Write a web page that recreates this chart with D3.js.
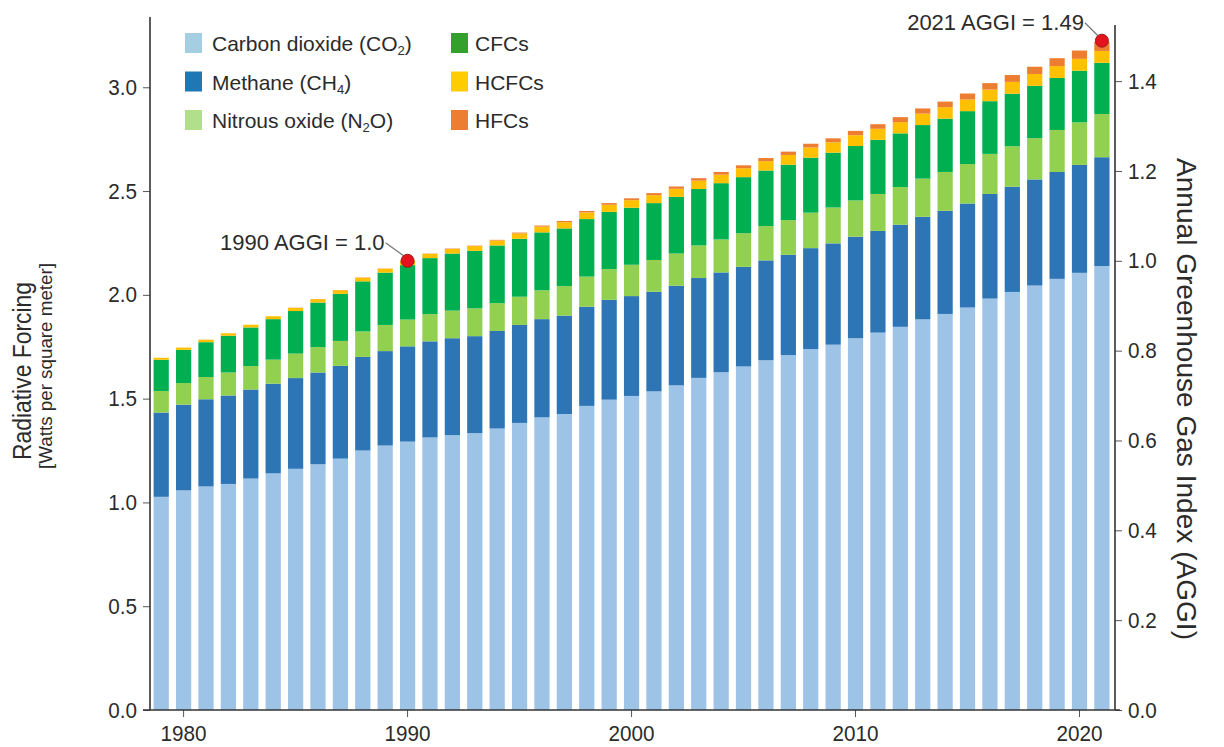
<!DOCTYPE html>
<html>
<head>
<meta charset="utf-8">
<script src="https://cdn.jsdelivr.net/npm/d3@7"></script>
<style>
  body { margin: 0; background: #fff; }
  svg text { font-family: "Liberation Sans", Arial, sans-serif; fill: #2b2b2b; }
</style>
</head>
<body>
<div id="chart"></div>
<script>
// radiative forcing by gas, W/m2, 1979-2021
const years = d3.range(1979, 2022);
const co2 = [1.027,1.058,1.077,1.089,1.115,1.140,1.162,1.184,1.211,1.250,1.274,
  1.293,1.313,1.324,1.334,1.356,1.383,1.410,1.426,1.465,1.495,
  1.513,1.535,1.564,1.600,1.627,1.655,1.685,1.710,1.739,1.760,
  1.791,1.818,1.846,1.882,1.908,1.939,1.982,2.014,2.045,2.077,
  2.106,2.139];
const ch4 = [0.406,0.413,0.420,0.426,0.429,0.432,0.437,0.442,0.447,0.451,0.455,
  0.459,0.463,0.467,0.467,0.470,0.472,0.473,0.474,0.478,0.481,
  0.481,0.480,0.480,0.481,0.481,0.480,0.481,0.483,0.486,0.488,
  0.489,0.490,0.492,0.494,0.497,0.501,0.504,0.507,0.511,0.515,
  0.520,0.524];
const n2o = [0.104,0.104,0.107,0.111,0.113,0.116,0.118,0.122,0.120,0.123,0.126,
  0.129,0.131,0.133,0.134,0.134,0.136,0.139,0.142,0.145,0.148,
  0.151,0.153,0.155,0.157,0.159,0.162,0.165,0.167,0.171,0.173,
  0.175,0.178,0.181,0.184,0.187,0.190,0.193,0.195,0.199,0.202,
  0.205,0.208];
const cfcs = [0.150,0.160,0.168,0.177,0.186,0.195,0.205,0.215,0.227,0.241,0.252,
  0.262,0.270,0.275,0.277,0.278,0.279,0.279,0.278,0.277,0.276,
  0.275,0.274,0.273,0.272,0.271,0.270,0.268,0.267,0.265,0.264,
  0.262,0.261,0.259,0.258,0.257,0.255,0.254,0.253,0.252,0.251,
  0.249,0.247];
const hcfcs = [0.010,0.011,0.012,0.012,0.013,0.014,0.015,0.016,0.017,0.018,0.019,
  0.020,0.021,0.022,0.023,0.024,0.026,0.028,0.030,0.032,0.034,
  0.036,0.038,0.039,0.040,0.041,0.043,0.045,0.047,0.049,0.050,
  0.052,0.053,0.054,0.055,0.055,0.056,0.056,0.057,0.057,0.057,
  0.057,0.057];
const hfcs = [0.000,0.000,0.000,0.000,0.000,0.000,0.001,0.001,0.001,0.001,0.001,
  0.001,0.001,0.002,0.002,0.003,0.004,0.005,0.006,0.007,0.008,
  0.009,0.010,0.011,0.012,0.013,0.014,0.015,0.016,0.018,0.019,
  0.021,0.022,0.024,0.025,0.027,0.029,0.031,0.033,0.035,0.038,
  0.040,0.043];

const keys = ["co2", "ch4", "n2o", "cfcs", "hcfcs", "hfcs"];
const barColors = ["#9dc3e6", "#2e75b6", "#92d050", "#00b050", "#ffc000", "#ed7d31"];
const legendColors = ["#a6cee3", "#1f78b4", "#b2df8a", "#33a02c", "#ffcc00", "#ed7d31"];
// legend label parts: [text, subscript, text after]
const legendLabels = [
  ["Carbon dioxide (CO", "2", ")"],
  ["Methane (CH", "4", ")"],
  ["Nitrous oxide (N", "2", "O)"],
  ["CFCs", "", ""],
  ["HCFCs", "", ""],
  ["HFCs", "", ""]
];
const leftTicks = [0, 0.5, 1.0, 1.5, 2.0, 2.5, 3.0];
const rightTicks = [0, 0.2, 0.4, 0.6, 0.8, 1.0, 1.2, 1.4];
const yearTicks = [1980, 1990, 2000, 2010, 2020];
const annotYears = [1990, 2021];
const annotAggi = [1.0, 1.49];
const annotText = ["1990 AGGI = 1.0", "2021 AGGI = 1.49"];

const width = 1224, height = 747;

let rows = years.map(function(y, i) {
  return { year: y, co2: co2[i], ch4: ch4[i], n2o: n2o[i], cfcs: cfcs[i], hcfcs: hcfcs[i], hfcs: hfcs[i] };
});
let rf1990 = 0;
keys.forEach(k => rf1990 += rows[years.indexOf(1990)][k]);

let svg = d3.select("#chart").append("svg")
  .attr("width", width)
  .attr("height", height);

const xLeft = 150, xRight = 1115, yBottom = 710, yTop = 25;

let x = d3.scaleBand()
  .domain(years)
  .range([150, 1113.1])
  .paddingInner(0.32)
  .paddingOuter(0.16);

let y = d3.scaleLinear().domain([0, 3.3]).range([yBottom, yTop]);
let yR = d3.scaleLinear().domain([0, 3.3 / rf1990]).range([yBottom, yTop]);

//stacked bars
let stack = d3.stack().keys(keys)(rows);
svg.append("g").selectAll("g")
  .data(stack)
  .join("g")
  .attr("fill", (d, i) => barColors[i])
  .selectAll("rect")
  .data(d => d)
  .join("rect")
  .attr("x", d => x(d.data.year))
  .attr("width", x.bandwidth())
  .attr("y", d => y(d[1]))
  .attr("height", d => y(d[0]) - y(d[1]));

//axes
let axisColor = "#333";
let gl = svg.append("g")
  .attr("transform", `translate(${xLeft},0)`)
  .call(d3.axisLeft(y).tickValues(leftTicks).tickFormat(d3.format(".1f")).tickSize(7).tickPadding(6));
let gr = svg.append("g")
  .attr("transform", `translate(${xRight},0)`)
  .call(d3.axisRight(yR).tickValues(rightTicks).tickFormat(d3.format(".1f")).tickSize(7).tickPadding(6));
let gb = svg.append("g")
  .attr("transform", `translate(0,${yBottom})`)
  .call(d3.axisBottom(x).tickValues(yearTicks).tickSize(7).tickPadding(8));

[gl, gr, gb].forEach(function(g) {
  g.select(".domain").remove();
  g.selectAll("line").attr("stroke", "#555").attr("stroke-width", 1);
  g.selectAll("text").attr("font-size", 22).attr("fill", "#2b2b2b");
});
//slightly condensed tick labels, like the original
svg.selectAll(".tick text").each(function() {
  let len = this.getComputedTextLength();
  d3.select(this).attr("textLength", len * 0.94).attr("lengthAdjust", "spacingAndGlyphs");
});

svg.append("line").attr("x1", xLeft).attr("x2", xLeft).attr("y1", yTop - 8).attr("y2", yBottom)
  .attr("stroke", axisColor).attr("stroke-width", 1.6);
svg.append("line").attr("x1", xRight).attr("x2", xRight).attr("y1", yTop).attr("y2", yBottom)
  .attr("stroke", axisColor).attr("stroke-width", 1.6);
svg.append("line").attr("x1", xLeft - 7).attr("x2", xRight + 5).attr("y1", yBottom).attr("y2", yBottom)
  .attr("stroke", axisColor).attr("stroke-width", 1.6);

//axis titles
svg.append("text")
  .attr("transform", "translate(31,371) rotate(-90)")
  .attr("text-anchor", "middle")
  .attr("font-size", 26)
  .attr("textLength", 178)
  .attr("lengthAdjust", "spacingAndGlyphs")
  .text("Radiative Forcing");
svg.append("text")
  .attr("transform", "translate(52,366) rotate(-90)")
  .attr("text-anchor", "middle")
  .attr("font-size", 19)
  .attr("textLength", 206)
  .attr("lengthAdjust", "spacingAndGlyphs")
  .text("[Watts per square meter]");
svg.append("text")
  .attr("transform", "translate(1177,399) rotate(90)")
  .attr("text-anchor", "middle")
  .attr("font-size", 27)
  .attr("textLength", 482)
  .attr("lengthAdjust", "spacingAndGlyphs")
  .text("Annual Greenhouse Gas Index (AGGI)");

//legend
let legend = svg.append("g").selectAll("g")
  .data(legendLabels)
  .join("g")
  .attr("transform", (d, i) => `translate(${i < 3 ? 185 : 451},${33 + (i % 3) * 38.5})`);
legend.append("rect")
  .attr("width", 17).attr("height", 20)
  .attr("fill", (d, i) => legendColors[i]);
let lt = legend.append("text")
  .attr("x", (d, i) => i < 3 ? 27 : 24)
  .attr("y", 18)
  .attr("font-size", 21);
lt.append("tspan").text(d => d[0]);
lt.append("tspan").attr("font-size", 13).attr("dy", 4).text(d => d[1]);
lt.append("tspan").attr("dy", -4).text(d => d[2]);

//AGGI annotations
const annotDx = [-23, -18];
let ann = svg.append("g").selectAll("g")
  .data(annotYears)
  .join("g")
  .attr("transform", (d, i) => `translate(${x(d) + x.bandwidth() / 2},${yR(annotAggi[i])})`);
ann.append("line")
  .attr("x1", (d, i) => annotDx[i] + 1).attr("y1", -18)
  .attr("x2", -4).attr("y2", -5)
  .attr("stroke", "#777")
  .attr("stroke-width", 1.2);
ann.append("text")
  .attr("x", (d, i) => annotDx[i])
  .attr("y", -11)
  .attr("text-anchor", "end")
  .attr("font-size", 22)
  .text((d, i) => annotText[i]);
ann.append("circle")
  .attr("r", 6.5)
  .attr("fill", "#e3141b")
  .attr("stroke", "#9b1b1b")
  .attr("stroke-width", 1);
</script>
</body>
</html>
